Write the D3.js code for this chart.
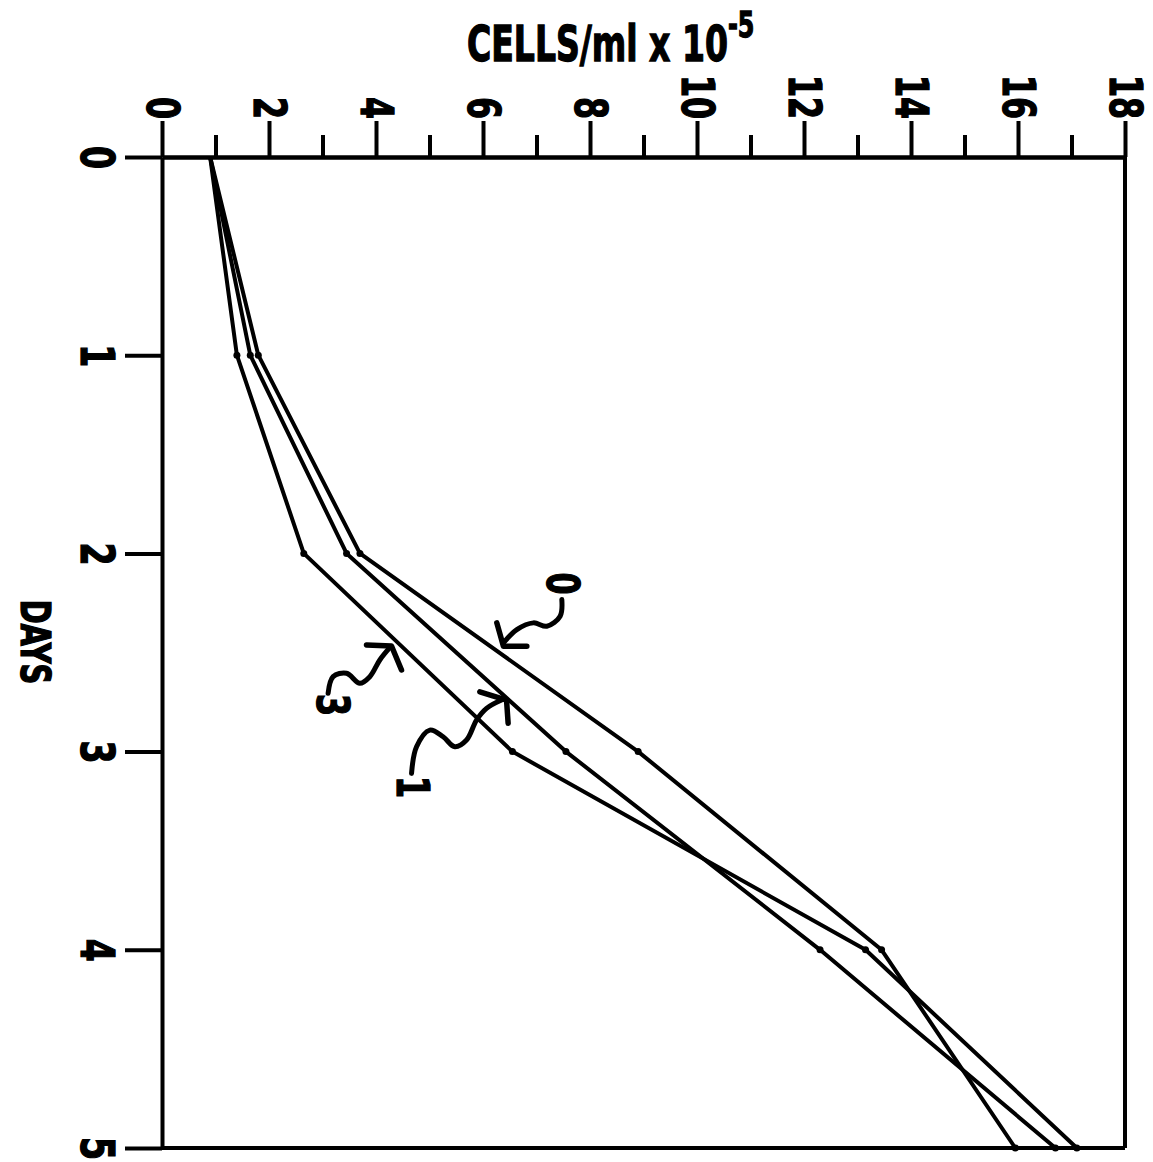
<!DOCTYPE html>
<html><head><meta charset="utf-8">
<script src="https://cdn.jsdelivr.net/npm/d3@7"></script>
<style>body{margin:0;background:#fff}svg{display:block}</style></head>
<body><svg id="c" width="1153" height="1162"></svg>
<script>
// ---- data ----
const days = [0, 1, 2, 3, 4, 5];
const series0 = [0.9, 1.8, 3.7, 8.9, 13.45, 15.95];
const series1 = [0.9, 1.65, 3.45, 7.55, 12.3, 16.7];
const series3 = [0.9, 1.4, 2.65, 6.55, 13.15, 17.1];
const seriesNames = ["0", "1", "3"];
const cellMajorTicks = [0, 2, 4, 6, 8, 10, 12, 14, 16, 18];
const cellMinorTicks = [1, 3, 5, 7, 9, 11, 13, 15, 17];
const dayTicks = [0, 1, 2, 3, 4, 5];
// annotation arrows: tip in data units (cells, days)
const annoNames = ["0", "3", "1"];
const annoTipCells = [6.32, 4.29, 6.44];
const annoTipDays = [2.46, 2.467, 2.74];

const FONT = "'Liberation Sans Narrow','DejaVu Sans Condensed','Liberation Sans',sans-serif";
const svg = d3.select("#c");
const x = d3.scaleLinear().domain([0, 18]).range([162, 1125]);
const y = d3.scaleLinear().domain([0, 5]).range([157, 1148]);

// frame (right + bottom)
svg.append("line").attr("x1", x(18)).attr("x2", x(18)).attr("y1", y(0)).attr("y2", y(5))
  .attr("stroke", "#000").attr("stroke-width", 4);
svg.append("line").attr("x1", x(0)).attr("x2", x(18)).attr("y1", y(5)).attr("y2", y(5))
  .attr("stroke", "#000").attr("stroke-width", 4);

// top axis: minor ticks
const gMinor = svg.append("g").attr("transform", `translate(0,${y(0)})`)
  .call(d3.axisTop(x).tickValues(cellMinorTicks).tickSize(22).tickSizeOuter(0).tickFormat(""));
// top axis: major ticks with labels
const gMajor = svg.append("g").attr("transform", `translate(0,${y(0)})`)
  .call(d3.axisTop(x).tickValues(cellMajorTicks).tickSize(36).tickSizeOuter(0).tickFormat(d3.format("d")));
[gMinor, gMajor].forEach(g => {
  g.select(".domain").attr("stroke", "#000").attr("stroke-width", 4);
  g.selectAll(".tick line").attr("stroke", "#000").attr("stroke-width", 4);
});
function boldText(sel, size) {
  sel.attr("font-family", FONT).attr("font-weight", "bold").attr("font-size", size)
    .attr("fill", "#000").attr("stroke", "#000").attr("stroke-width", 1.3);
}
gMajor.selectAll(".tick text")
  .attr("y", 0).attr("dy", null)
  .attr("text-anchor", "end")
  .attr("dominant-baseline", "central")
  .attr("transform", "translate(0,-38) rotate(90) scale(0.8,1)")
  .call(boldText, 44);

// left axis: days
const gDays = svg.append("g").attr("transform", `translate(${x(0)},0)`)
  .call(d3.axisLeft(y).tickValues(dayTicks).tickSize(37).tickSizeOuter(0).tickFormat(d3.format("d")));
gDays.select(".domain").attr("stroke", "#000").attr("stroke-width", 4);
gDays.selectAll(".tick line").attr("stroke", "#000").attr("stroke-width", 4);
gDays.selectAll(".tick text")
  .attr("x", 0).attr("dy", null)
  .attr("text-anchor", "middle")
  .attr("dominant-baseline", "central")
  .attr("transform", "translate(-65,0) rotate(90) scale(0.8,1)")
  .call(boldText, 46);

// data lines
const allSeries = [series0, series1, series3];
const line = d3.line().x(d => x(d[1])).y(d => y(d[0]));
allSeries.forEach((s, i) => {
  const pts = days.map((d, j) => [d, s[j]]);
  svg.append("path").datum(pts).attr("d", line)
    .attr("fill", "none").attr("stroke", "#000").attr("stroke-width", 4)
    .attr("stroke-linejoin", "round").attr("data-series", seriesNames[i]);
  svg.selectAll(null).data(pts.slice(1)).enter().append("circle")
    .attr("cx", d => x(d[1])).attr("cy", d => y(d[0])).attr("r", 3.5).attr("fill", "#000");
});

// annotations (hand-drawn squiggly arrows), offsets in px relative to the arrow tip
const squiggles = [
  [[61.7,-45],[60,-28.3],[46.7,-18.3],[33.3,-21.7],[16.7,-15],[3.3,-1.7]],
  [[-63.4,47.3],[-58.4,30.7],[-45,27.3],[-31.7,37.3],[-21.7,30.7],[-11.7,14],[-2,2]],
  [[-95,73.3],[-90,46.7],[-76.7,30],[-63.4,36.7],[-51.7,46.7],[-40,40],[-30,20],[-20,8.3],[-5,0]]
];
const heads = [
  [[-3.3,-21.7],[3.3,1.7],[26.7,1.7]],
  [[-25,-1],[0,0],[10,24]],
  [[-26.7,-8.3],[0,0],[1.6,23.3]]
];
const labelOff = [[62,-61],[-58.7,59],[-93.7,87]];
const sq = d3.line().curve(d3.curveCatmullRom.alpha(0.5));
const hd = d3.line();
annoNames.forEach((n, i) => {
  const tx = x(annoTipCells[i]), ty = y(annoTipDays[i]);
  const g = svg.append("g").attr("transform", `translate(${tx},${ty})`);
  g.append("path").attr("d", sq(squiggles[i])).attr("fill", "none").attr("stroke", "#000")
    .attr("stroke-width", 5).attr("stroke-linecap", "round");
  g.append("path").attr("d", hd(heads[i])).attr("fill", "none").attr("stroke", "#000")
    .attr("stroke-width", 5.5).attr("stroke-linecap", "round").attr("stroke-linejoin", "round");
  g.append("text").text(n)
    .attr("text-anchor", "middle").attr("dominant-baseline", "central")
    .attr("transform", `translate(${labelOff[i][0]},${labelOff[i][1]}) rotate(90) scale(0.8,1)`)
    .call(boldText, 44);
});

// titles
const title = svg.append("text")
  .attr("transform", "translate(467,61) scale(0.735,1)")
  .call(boldText, 50);
title.append("tspan").text("CELLS/ml x 10");
title.append("tspan").text("-5").attr("font-size", 36).attr("dy", -24);

svg.append("text").text("DAYS")
  .attr("text-anchor", "middle").attr("dominant-baseline", "central")
  .attr("transform", "translate(35,642) rotate(90) scale(0.8,1)")
  .call(boldText, 40);
</script>
</body></html>
